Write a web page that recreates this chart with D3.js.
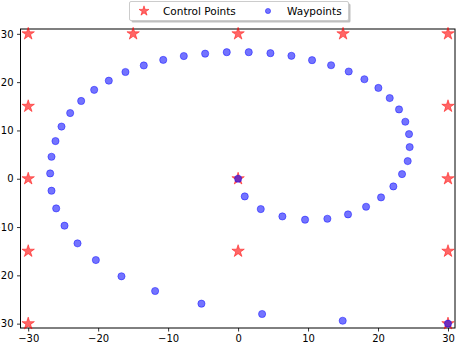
<!DOCTYPE html>
<html>
<head>
<meta charset="utf-8">
<script src="https://cdn.jsdelivr.net/npm/d3@7"></script>
<style>
  body { margin: 0; background: #fff; }
  svg { display: block; font-family: "DejaVu Sans", sans-serif; }
</style>
</head>
<body>
<svg id="chart"></svg>
<script>
// control points of the grid
const ctrlX = [-30, -15, 0, 15, 30, -30, 30, -30, 0, 30, -30, 0, 30, -30, 30];
const ctrlY = [30, 30, 30, 30, 30, 15, 15, 0, 0, 0, -15, -15, -15, -30, -30];

// waypoints along the spiral, in path order
const wayX = [0, 0.95, 3.24, 6.33, 9.57, 12.76, 15.71, 18.29, 20.43, 22.19, 23.43, 24.24, 24.52, 24.43, 23.9, 23.0,
  21.67, 20.05, 18.05, 15.81, 13.29, 10.57, 7.62, 4.62, 1.52, -1.62, -4.71, -7.76, -10.7, -13.48,
  -16.1, -18.48, -20.57, -22.43, -24.0, -25.24, -26.1, -26.67, -26.86, -26.67, -26.0, -24.81, -22.95,
  -20.33, -16.67, -11.86, -5.24, 3.43, 14.95, 30];
const wayY = [0, -3.66, -6.28, -7.8, -8.48, -8.28, -7.38, -5.8, -3.86, -1.59, 0.96, 3.65, 6.55, 9.24, 11.8, 14.35,
  16.7, 18.8, 20.6, 22.2, 23.5, 24.55, 25.45, 26.0, 26.2, 26.2, 25.9, 25.4, 24.6, 23.45,
  22.1, 20.3, 18.4, 16.1, 13.6, 10.8, 7.8, 4.55, 1.1, -2.48, -6.14, -9.72, -13.38,
  -16.83, -20.2, -23.24, -25.86, -28.0, -29.4, -30];

const xTicks = [-30, -20, -10, 0, 10, 20, 30];
const yTicks = [-30, -20, -10, 0, 10, 20, 30];

const width = 456, height = 344;
const margin = {left: 20.5, right: 1, top: 29, bottom: 16};

const svg = d3.select('#chart').attr('width', width).attr('height', height);

const x = d3.scaleLinear().domain([-31.1, 31.0]).range([margin.left, width - margin.right]);
const y = d3.scaleLinear().domain([-30.9, 31.0]).range([height - margin.bottom, margin.top]);

const fmt = d => (d < 0 ? '\u2212' + Math.abs(d) : '' + d);

const xAxis = svg.append('g')
  .attr('transform', 'translate(0,' + (height - margin.bottom) + ')')
  .call(d3.axisBottom(x).tickValues(xTicks).tickFormat(fmt).tickSizeOuter(0).tickSize(3.5).tickPadding(3.5));
const yAxis = svg.append('g')
  .attr('transform', 'translate(' + margin.left + ',0)')
  .call(d3.axisLeft(y).tickValues(yTicks).tickFormat(fmt).tickSizeOuter(0).tickSize(3.5).tickPadding(3.5));
[xAxis, yAxis].forEach(a => {
  a.select('.domain').remove();
  a.selectAll('text').attr('font-size', 10).attr('font-family', '"DejaVu Sans", sans-serif').attr('fill', '#000');
  a.selectAll('line').attr('stroke', '#000').attr('stroke-width', 0.8);
});

// frame
svg.append('rect')
  .attr('x', margin.left).attr('y', margin.top)
  .attr('width', width - margin.right - margin.left)
  .attr('height', height - margin.bottom - margin.top)
  .attr('fill', 'none').attr('stroke', '#000').attr('stroke-width', 1);

const star = d3.symbol().type(d3.symbolStar);

svg.append('g').selectAll('path')
  .data(d3.range(ctrlX.length))
  .join('path')
  .attr('d', star.size(48))
  .attr('transform', i => 'translate(' + x(ctrlX[i]) + ',' + y(ctrlY[i]) + ')')
  .attr('fill', 'red').attr('fill-opacity', 0.6)
  .attr('stroke', 'red').attr('stroke-opacity', 0.6).attr('stroke-width', 0.8);

svg.append('g').selectAll('circle')
  .data(d3.range(wayX.length))
  .join('circle')
  .attr('cx', i => x(wayX[i]))
  .attr('cy', i => y(wayY[i]))
  .attr('r', 3.6)
  .attr('fill', 'blue').attr('fill-opacity', 0.55)
  .attr('stroke', 'blue').attr('stroke-opacity', 0.55).attr('stroke-width', 0.8);

// legend
const leg = svg.append('g');
const lx = 129.5, ly = 1.5, lw = 219, lh = 19;
leg.append('rect').attr('x', lx + 2).attr('y', ly + 2).attr('width', lw).attr('height', lh)
  .attr('fill', '#808080').attr('fill-opacity', 0.5).attr('rx', 1.5);
leg.append('rect').attr('x', lx).attr('y', ly).attr('width', lw).attr('height', lh)
  .attr('fill', '#fff').attr('stroke', '#ccc').attr('stroke-width', 1).attr('rx', 1.5);
leg.append('path').attr('d', star.size(30))
  .attr('transform', 'translate(144,' + (ly + 9.5) + ')')
  .attr('fill', 'red').attr('fill-opacity', 0.6)
  .attr('stroke', 'red').attr('stroke-opacity', 0.6).attr('stroke-width', 0.8);
leg.append('text').attr('x', 163).attr('y', ly + 13.5).attr('font-size', 10.5).text('Control Points');
leg.append('circle').attr('cx', 268).attr('cy', ly + 9.5).attr('r', 2.6)
  .attr('fill', 'blue').attr('fill-opacity', 0.55)
  .attr('stroke', 'blue').attr('stroke-opacity', 0.55).attr('stroke-width', 0.8);
leg.append('text').attr('x', 287).attr('y', ly + 13.5).attr('font-size', 10.5).text('Waypoints');
</script>
</body>
</html>
